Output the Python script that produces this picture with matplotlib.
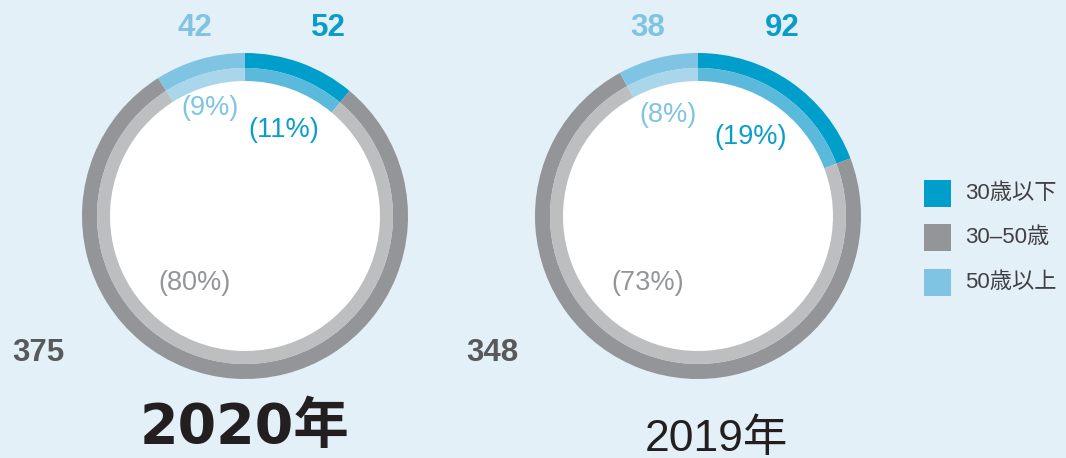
import matplotlib.pyplot as plt
from matplotlib.patches import Rectangle

plt.rcParams['font.family'] = ['Liberation Sans', 'Noto Sans CJK JP', 'DejaVu Sans']

# data
groups = ['30歳以下', '30–50歳', '50歳以上']
years = ['2020年', '2019年']
counts = {'2020年': [52, 375, 42], '2019年': [92, 348, 38]}

outer_colors = ['#009FCB', '#939598', '#7FC4E2']
inner_colors = ['#5BBADB', '#BCBEC0', '#A9D6EB']
text_colors = ['#0A9DC9', '#939598', '#7FC4E2']
bg = '#E3F0F8'

W, H = 1066, 458
fig = plt.figure(figsize=(W / 100, H / 100), dpi=100, facecolor=bg)
ax = fig.add_axes([0, 0, 1, 1])


def py(y):
    # pixel row -> data y
    return H - y


centers = [(245, 216), (698, 216)]
R_out, R_mid, R_in = 163, 148, 135

# label positions (pixel coords): counts and percentages in group order
layout = [
    dict(n=[(328, 28), (38, 353), (195, 28)], p=[(284, 130), (195, 283), (210, 108)],
         title=(245, 428), bold=True, fs=40),
    dict(n=[(782, 28), (492, 353), (648, 28)], p=[(751, 137), (648, 283), (668, 115)],
         title=(716, 439), bold=False, fs=32),
]

for year, (cx, cy), lay in zip(years, centers, layout):
    vals = counts[year]
    total = sum(vals)
    c = (cx, py(cy))
    ax.pie(vals, colors=outer_colors, startangle=90, counterclock=False,
           radius=R_out, center=c, frame=True,
           wedgeprops=dict(width=R_out - R_mid, linewidth=0))
    ax.pie(vals, colors=inner_colors, startangle=90, counterclock=False,
           radius=R_mid, center=c, frame=True,
           wedgeprops=dict(width=R_mid - R_in, linewidth=0))
    ax.add_patch(plt.Circle(c, R_in, color='white', zorder=0.5))
    for i, v in enumerate(vals):
        col = '#58595B' if i == 1 else text_colors[i]
        nx, ny = lay['n'][i]
        ax.text(nx, py(ny), str(v), color=col, fontsize=22.5, fontweight='bold',
                ha='center', va='center')
        pxx, pyy = lay['p'][i]
        ax.text(pxx, py(pyy), '(%d%%)' % round(v / total * 100), color=text_colors[i],
                fontsize=19.5, ha='center', va='center')
    tx, ty = lay['title']
    if lay['bold']:
        ax.text(tx, py(ty), year, color='#231F20', fontsize=lay['fs'], fontweight='bold',
                family=['DejaVu Sans', 'Noto Sans CJK JP'], ha='center', va='center')
    else:
        ax.text(tx, py(ty), year, color='#231F20', fontsize=lay['fs'],
                ha='center', va='center')

ax.set_xlim(0, W)
ax.set_ylim(0, H)
ax.set_aspect('equal')
ax.axis('off')

# legend
for i, g in enumerate(groups):
    ly = [193.5, 237.5, 282.5][i]
    ax.add_patch(Rectangle((924, py(ly) - 13.5), 27, 27, color=outer_colors[i], linewidth=0))
    ax.text(965, py(ly), g, color='#414042', fontsize=16, ha='left', va='center')

fig.savefig('out.png', dpi=100, facecolor=bg)
